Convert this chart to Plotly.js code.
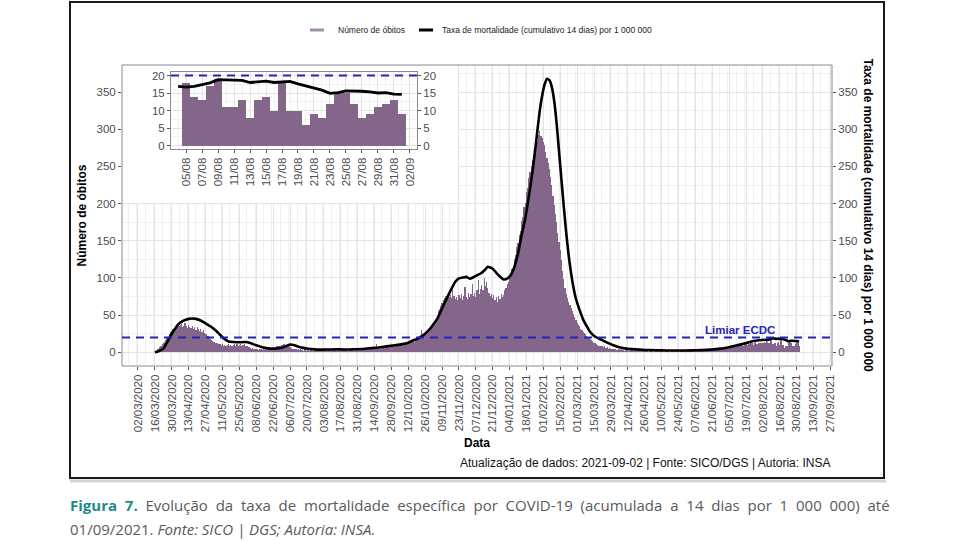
<!DOCTYPE html>
<html>
<head>
<meta charset="utf-8">
<script src="https://cdn.plot.ly/plotly-3.0.1.min.js"></script>
<style>
  html, body { margin: 0; padding: 0; background: #fff; }
  #chart { width: 960px; height: 540px; }
</style>
</head>
<body>
<div id="chart"></div>
<script>
// Daily number of COVID-19 deaths (SICO), one value per day from 16/03/2020
const deathsStart = '2020-03-16';
const deaths2020 = [
  // Mar 16-31
  1,2,4,5,7,9,11,12,14,17,19,21,24,27,29,32,
  // Apr
  31,34,33,36,35,37,38,34,36,39, 35,33,37,34,33,35,31,34,30,34, 31,29,32,28,30,26,25,24,22,20,
  // May
  18,17,15,14,13,12,12,11,11,10, 11,9,10,9,10,11,9,10,9,10, 11,9,11,8,10,11,9,10,11,9,8,
  // Jun
  9,7,6,5,6,4,5,4,5,3, 4,5,3,4,3,4,3,4,3,4, 3,4,6,7,8,8,9,9,10,10,
  // Jul
  11,10,9,9,8,7,6,5,5,4, 4,3,4,3,4,3,2,4,3,2, 3,2,3,4,2,3,3,2,3,2,3,
  // Aug
  2,3,4,3,2,4,3,3,2,4, 3,5,3,2,4,3,3,2,4,3, 4,3,2,5,3,4,3,2,4,3,4,
  // Sep
  4,5,3,4,5,6,4,5,4,6, 5,6,7,5,6,11,6,7,5,8, 7,6,8,9,7,8,10,9,8,10,
  // Oct
  8,9,10,9,11,10,12,11,10,12, 13,12,14,13,15,16,14,17,16,18, 20,19,30,22,24,26,25,28,31,33,36,
  // Nov
  34,37,40,44,49,55,58,62,66,70, 73,76,72,78,75,77,73,84,76,72, 75,70,77,73,79,71,76,88,74,72,
  // Dec
  80,74,78,92,76,80,75,84,97,78, 85,91,84,100,89,94,86,80,76,78, 73,77,70,75,68,76,72,79,74,77,84
];
const deaths2021 = [
  // Jan
  86,92,94,102,103,112,115,126,131,141, 147,158,163,177,182,196,201,215,221,234, 243,251,258,266,270,279,284,292,297,291,288,
  // Feb
  283,279,270,262,255,247,236,225,210,198, 186,175,160,148,137,124,110,98,86,79, 73,68,63,59,55,51,47,43,
  // Mar
  40,37,35,32,30,28,26,24,22,21, 20,18,16,15,13,12,11,10,9,9, 8,9,7,8,6,7,5,6,5,4,5,
  // Apr
  4,5,3,4,5,3,4,3,2,4, 3,4,2,3,3,4,2,3,2,3, 3,2,4,2,3,2,3,2,1,3,
  // May
  2,3,1,2,3,2,2,1,3,2, 2,1,3,2,2,3,1,2,2,3, 1,2,3,2,1,3,2,2,3,1,2,
  // Jun
  3,2,3,2,4,2,3,3,2,4, 3,4,3,5,3,4,4,5,3,5, 4,6,5,4,6,5,7,6,5,7,
  // Jul
  5,7,6,5,8,7,6,8,7,9, 8,9,10,9,11,10,9,12,11,10, 12,11,13,12,10,13,14,11,13,12,13,
  // Aug
  13,12,14,12,18,14,13,17,19,11, 11,13,8,13,14,10,18,10,10,6, 9,8,12,15,15,12,8,9,11,12,13,
  // Sep 1
  9
];

// 14-day cumulative mortality rate per 1 000 000 inhabitants
const rateDates = [
  '2020-03-16','2020-03-19','2020-03-23','2020-03-26','2020-03-29','2020-04-01','2020-04-04','2020-04-07',
  '2020-04-10','2020-04-13','2020-04-16','2020-04-19','2020-04-22','2020-04-25','2020-04-28','2020-05-01',
  '2020-05-04','2020-05-07','2020-05-10','2020-05-13','2020-05-16','2020-05-20','2020-05-25','2020-05-30',
  '2020-06-03','2020-06-07','2020-06-11','2020-06-15','2020-06-20','2020-06-25','2020-06-29','2020-07-02',
  '2020-07-06','2020-07-09','2020-07-13','2020-07-17','2020-07-21','2020-07-26','2020-07-31','2020-08-06',
  '2020-08-13','2020-08-20','2020-08-27','2020-09-03','2020-09-10','2020-09-17','2020-09-24','2020-10-01',
  '2020-10-07','2020-10-12','2020-10-16','2020-10-20','2020-10-24','2020-10-27','2020-10-30','2020-11-02',
  '2020-11-05','2020-11-08','2020-11-11','2020-11-14','2020-11-17','2020-11-20','2020-11-23','2020-11-26',
  '2020-11-29','2020-12-02','2020-12-05','2020-12-08','2020-12-11','2020-12-14','2020-12-17','2020-12-19',
  '2020-12-21','2020-12-24','2020-12-27','2020-12-30','2021-01-02','2021-01-05','2021-01-08','2021-01-11',
  '2021-01-14','2021-01-17','2021-01-20','2021-01-23','2021-01-26','2021-01-29','2021-01-31','2021-02-02',
  '2021-02-04','2021-02-06','2021-02-08','2021-02-10','2021-02-12','2021-02-14','2021-02-16','2021-02-18',
  '2021-02-20','2021-02-22','2021-02-24','2021-02-26','2021-02-28','2021-03-03','2021-03-06','2021-03-09',
  '2021-03-12','2021-03-16','2021-03-21','2021-03-26','2021-03-31','2021-04-05','2021-04-11','2021-04-18',
  '2021-04-26','2021-05-05','2021-05-15','2021-05-25','2021-06-04','2021-06-12','2021-06-20','2021-06-27',
  '2021-07-04','2021-07-10','2021-07-16','2021-07-22','2021-07-28','2021-08-01',
  '2021-08-04','2021-08-05','2021-08-06','2021-08-07','2021-08-08','2021-08-09','2021-08-10','2021-08-11',
  '2021-08-12','2021-08-13','2021-08-14','2021-08-15','2021-08-16','2021-08-17','2021-08-18','2021-08-19',
  '2021-08-20','2021-08-21','2021-08-22','2021-08-23','2021-08-24','2021-08-25','2021-08-26','2021-08-27',
  '2021-08-28','2021-08-29','2021-08-30','2021-08-31','2021-09-01'
];
const rateValues = [
  0,1.5,5,13,22,30,37,41,
  43.5,45,45.5,45,43.5,41,38,35,
  31.5,27,22,17.5,14.5,13.8,13.5,13.8,
  12.5,10,8,6,5,5.2,6,8,
  10.3,9.8,7.5,6,4.8,4,3.6,3.7,
  4,3.8,4,4.4,5.5,6.5,8,9.5,
  11,13,16,18.5,22.5,26.5,31.5,38,
  45,55,66,76,86,95,99.5,100.5,
  101.5,99,101,103.5,106,110,115,114,
  112.5,107,102,98,99,104,115,133,
  158,180,210,243,283,325,345,360,
  368,366,357,338,308,270,232,195,
  160,130,106,87,72,57,44,35,
  27,21,17,13,9.5,6.7,5,4,
  3.2,2.8,2.5,2.4,2.6,3,3.6,4.6,
  6.5,8.8,11.2,13.8,15.8,16.6,
  16.9,16.7,16.9,17.3,17.9,18.8,18.8,18.8,
  18.6,18.0,18.2,18.4,18.0,18.2,18.3,17.6,
  17.0,16.5,15.8,14.9,15.1,15.6,15.6,15.5,
  15.3,15.0,15.1,14.7,14.6
];

const ecdcThreshold = 20;          // ECDC threshold, per 1 000 000 over 14 days
const insetFrom = '2021-08-04';    // first day shown in the detail panel

// ---------- helpers ----------
const DAY = 86400000;
function addDays(iso, n) {
  const d = new Date(iso + 'T00:00:00Z');
  d.setUTCDate(d.getUTCDate() + n);
  return d.toISOString().slice(0, 10);
}
const deaths = deaths2020.concat(deaths2021);
const deathDates = deaths.map((_, i) => addDays(deathsStart, i));

const insetIdx = deathDates.map((d, i) => d > insetFrom ? i : -1).filter(i => i >= 0);
const insetDeathDates = insetIdx.map(i => deathDates[i]);
const insetDeaths = insetIdx.map(i => deaths[i]);
const rIdx = rateDates.map((d, i) => d >= insetFrom ? i : -1).filter(i => i >= 0);
const insetRateDates = rIdx.map(i => rateDates[i]);
const insetRates = rIdx.map(i => rateValues[i]);

// justified-looking caption line: widen each word gap
const spread = s => s.split(' ').join(' \u00a0');

// page geometry (pixels) of the main panel
const W = 960, H = 540, L = 122, R = 832, T = 65, B = 366;
const px = x => (x - L) / (R - L);
const py = y => (B - y) / (B - T);

const BAR = '#83668a';
const BLUE = '#2424b8';
const GRID = '#e4e4e4';
const GRID_MINOR = '#f1f1f1';
const TICKFONT = { family: 'Liberation Sans, Arial, sans-serif', size: 11.5, color: '#4d4d4d' };

const mainRange = ['2020-02-17 18:00', '2021-09-28 06:00'];
const yRange = [-18.4, 386.4];
const insetRange = ['2021-08-03 02:24', '2021-09-02 21:36'];
const insetY = [-1, 21];

const traces = [
  { type: 'bar', name: 'Número de óbitos', x: deathDates, y: deaths, width: DAY,
    marker: { color: BAR, line: { width: 0 } }, xaxis: 'x', yaxis: 'y', hoverinfo: 'x+y' },
  { type: 'scatter', mode: 'lines', name: 'Taxa de mortalidade (cumulativo 14 dias) por 1 000 000',
    x: rateDates, y: rateValues, line: { color: '#000', width: 2.6, shape: 'spline', smoothing: 0.5 },
    xaxis: 'x', yaxis: 'y5' },
  // blank white panel that sits behind the detail chart
  { type: 'scatter', mode: 'markers', x: [0.5], y: [0.5], marker: { opacity: 0 },
    xaxis: 'x2', yaxis: 'y2', hoverinfo: 'skip', showlegend: false },
  { type: 'bar', x: insetDeathDates, y: insetDeaths, width: DAY,
    marker: { color: BAR, line: { width: 0 } }, xaxis: 'x3', yaxis: 'y3', showlegend: false },
  { type: 'scatter', mode: 'lines', x: insetRateDates, y: insetRates,
    line: { color: '#000', width: 2.8 }, xaxis: 'x3', yaxis: 'y4', showlegend: false }
];

const axBase = {
  ticks: 'outside', ticklen: 3, tickwidth: 1, tickcolor: '#555',
  zeroline: false, showline: false, tickfont: TICKFONT
};

const layout = {
  width: W, height: H,
  margin: { l: L, r: W - R, t: T, b: H - B, pad: 0 },
  paper_bgcolor: '#fff', plot_bgcolor: '#fff',
  showlegend: false, bargap: 0,
  font: { family: 'Liberation Sans, Arial, sans-serif', color: '#000' },
  xaxis: Object.assign({}, axBase, {
    type: 'date', range: mainRange, tick0: '2020-03-02', dtick: 14 * DAY,
    tickformat: '%d/%m/%Y', tickangle: -90,
    showgrid: true, gridcolor: GRID,
    minor: { dtick: 7 * DAY, showgrid: true, gridcolor: GRID_MINOR },
    title: { text: '<b>Data</b>', font: { size: 12, color: '#000' }, standoff: 7 }
  }),
  yaxis: Object.assign({}, axBase, {
    range: yRange, tick0: 0, dtick: 50, showgrid: true, gridcolor: GRID,
    minor: { dtick: 25, showgrid: true, gridcolor: GRID_MINOR },
    title: { text: '<b>Número de óbitos</b>', font: { size: 12, color: '#000' }, standoff: 7 }
  }),
  yaxis5: Object.assign({}, axBase, {
    overlaying: 'y', side: 'right', range: yRange, tick0: 0, dtick: 50, showgrid: false
  }),
  xaxis2: { domain: [px(123), px(458)], anchor: 'y2', range: [0, 1], visible: false },
  yaxis2: { domain: [py(203), py(66)], anchor: 'x2', range: [0, 1], visible: false },
  xaxis3: Object.assign({}, axBase, {
    domain: [px(171), px(417)], anchor: 'y3', type: 'date', range: insetRange,
    tick0: '2021-08-05', dtick: 2 * DAY, tickformat: '%d/%m', tickangle: -90,
    showgrid: true, gridcolor: GRID, minor: { dtick: DAY, showgrid: true, gridcolor: GRID_MINOR },
    showline: true, mirror: true, linecolor: '#8a8a8a', linewidth: 1
  }),
  yaxis3: Object.assign({}, axBase, {
    domain: [py(149), py(72)], anchor: 'x3', range: insetY, tick0: 0, dtick: 5,
    showgrid: true, gridcolor: GRID, minor: { dtick: 2.5, showgrid: true, gridcolor: GRID_MINOR },
    showline: true, mirror: true, linecolor: '#8a8a8a', linewidth: 1
  }),
  yaxis4: Object.assign({}, axBase, {
    overlaying: 'y3', side: 'right', anchor: 'x3', range: insetY, tick0: 0, dtick: 5, showgrid: false
  }),
  shapes: [
    // outer frame of the figure
    { type: 'rect', xref: 'paper', yref: 'paper', x0: px(70), x1: px(884), y0: py(478), y1: py(2),
      line: { color: '#1a1a1a', width: 2 }, layer: 'above' },
    { type: 'line', xref: 'paper', yref: 'paper', x0: px(70), x1: px(886), y0: py(481), y1: py(481),
      line: { color: '#d4d4d4', width: 3 }, layer: 'below' },
    // main panel border
    { type: 'rect', xref: 'paper', yref: 'paper', x0: 0, x1: 1, y0: 0, y1: 1,
      line: { color: '#8a8a8a', width: 1 }, layer: 'above' },
    // ECDC threshold
    { type: 'line', xref: 'x', yref: 'y', x0: mainRange[0], x1: mainRange[1], y0: ecdcThreshold, y1: ecdcThreshold,
      line: { color: BLUE, width: 2, dash: '8px,6px' }, layer: 'above' },
    { type: 'line', xref: 'x3', yref: 'y3', x0: insetRange[0], x1: insetRange[1], y0: ecdcThreshold, y1: ecdcThreshold,
      line: { color: BLUE, width: 2, dash: '8px,6px' }, layer: 'above' },
    // legend keys
    { type: 'line', xref: 'paper', yref: 'paper', x0: px(310), x1: px(324), y0: py(30), y1: py(30),
      line: { color: '#a58fae', width: 3 } },
    { type: 'line', xref: 'paper', yref: 'paper', x0: px(419), x1: px(433), y0: py(30), y1: py(30),
      line: { color: '#000', width: 3 } }
  ],
  annotations: [
    { xref: 'paper', yref: 'paper', x: px(336), y: py(30), xanchor: 'left', yanchor: 'middle',
      text: 'Número de óbitos', showarrow: false, font: { size: 8.5, color: '#222' } },
    { xref: 'paper', yref: 'paper', x: px(440), y: py(30), xanchor: 'left', yanchor: 'middle',
      text: 'Taxa de mortalidade (cumulativo 14 dias) por 1 000 000', showarrow: false,
      font: { size: 8.5, color: '#222' } },
    { xref: 'paper', yref: 'paper', x: px(740), y: py(330), xanchor: 'center', yanchor: 'middle',
      text: '<b>Limiar ECDC</b>', showarrow: false, font: { size: 11.5, color: BLUE } },
    { xref: 'paper', yref: 'paper', x: px(868), y: 0.5, xanchor: 'center', yanchor: 'middle',
      textangle: 90, text: '<b>Taxa de mortalidade (cumulativo 14 dias) por 1 000 000</b>',
      showarrow: false, font: { size: 12, color: '#000' } },
    { xref: 'paper', yref: 'paper', x: px(832), y: py(463), xanchor: 'right', yanchor: 'middle',
      text: 'Atualização de dados: 2021-09-02 | Fonte: SICO/DGS | Autoria: INSA', showarrow: false,
      font: { size: 12, color: '#111' } },
    { xref: 'paper', yref: 'paper', x: px(68), y: py(505), xanchor: 'left', yanchor: 'middle',
      text: '<b><span style="color:#1d8a8c">' + spread('Figura 7.') + '</span></b> \u00a0' +
            spread('Evolução da taxa de mortalidade específica por COVID-19 (acumulada a 14 dias por 1 000 000) até'),
      showarrow: false, font: { family: 'Open Sans, Noto Sans, sans-serif', size: 15, color: '#5a5a5a' } },
    { xref: 'paper', yref: 'paper', x: px(68), y: py(529), xanchor: 'left', yanchor: 'middle',
      text: '01/09/2021. <i>Fonte: SICO | DGS; Autoria: INSA.</i>',
      showarrow: false, font: { family: 'Open Sans, Noto Sans, sans-serif', size: 15, color: '#5a5a5a' } }
  ]
};

Plotly.newPlot('chart', traces, layout, { displayModeBar: false, staticPlot: true });
</script>
</body>
</html>
